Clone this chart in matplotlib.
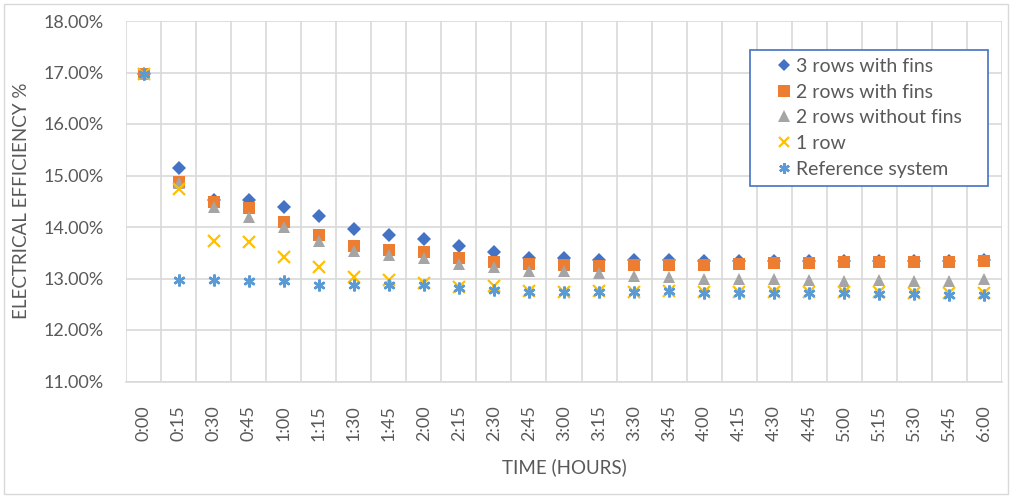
import numpy as np
import matplotlib
matplotlib.use('Agg')
from matplotlib import pyplot as plt
from matplotlib.ticker import PercentFormatter, FixedLocator
from matplotlib.patches import Rectangle

plt.rcParams['font.family'] = ['Lato', 'DejaVu Sans']

times = ['0:00', '0:15', '0:30', '0:45', '1:00', '1:15', '1:30', '1:45', '2:00',
         '2:15', '2:30', '2:45', '3:00', '3:15', '3:30', '3:45', '4:00', '4:15',
         '4:30', '4:45', '5:00', '5:15', '5:30', '5:45', '6:00']

rows3_fins = [16.97, 15.15, 14.53, 14.52, 14.38, 14.22, 13.97, 13.85, 13.76, 13.63,
              13.52, 13.40, 13.39, 13.36, 13.35, 13.35, 13.34, 13.34, 13.34, 13.34,
              13.34, 13.34, 13.34, 13.34, 13.35]
rows2_fins = [16.97, 14.88, 14.48, 14.36, 14.09, 13.85, 13.63, 13.55, 13.52, 13.39,
              13.32, 13.28, 13.27, 13.25, 13.26, 13.27, 13.27, 13.29, 13.30, 13.31,
              13.32, 13.32, 13.33, 13.33, 13.34]
rows2_nofins = [16.97, 14.85, 14.39, 14.20, 14.00, 13.73, 13.54, 13.45, 13.39, 13.29,
                13.23, 13.15, 13.15, 13.11, 13.04, 13.03, 13.00, 13.00, 12.99, 12.98,
                12.96, 12.98, 12.96, 12.96, 13.00]
row1 = [16.97, 14.73, 13.73, 13.71, 13.42, 13.23, 13.03, 12.97, 12.92, 12.83,
        12.86, 12.75, 12.74, 12.75, 12.74, 12.76, 12.74, 12.74, 12.74, 12.74,
        12.73, 12.73, 12.72, 12.72, 12.72]
reference = [16.97, 12.98, 12.97, 12.95, 12.95, 12.88, 12.87, 12.88, 12.88, 12.81,
             12.77, 12.73, 12.73, 12.74, 12.73, 12.75, 12.72, 12.72, 12.72, 12.72,
             12.71, 12.70, 12.69, 12.68, 12.68]

W, H = 1014, 497
fig = plt.figure(figsize=(W / 100, H / 100), dpi=100)
ax = fig.add_axes([126 / W, 1 - 381.5 / H, 876 / W, 360.5 / H])

x = np.arange(len(times))
grey = '#D9D9D9'
txt = '#595959'

ax.plot(x, rows3_fins, ls='none', marker='D', ms=7, mew=0, color='#4472C4', label='3 rows with fins', zorder=3)
ax.plot(x, rows2_fins, ls='none', marker='s', ms=9, mew=0, color='#ED7D31', label='2 rows with fins', zorder=4)
ax.plot(x, rows2_nofins, ls='none', marker='^', ms=9, mew=0, color='#A5A5A5', label='2 rows without fins', zorder=5)
ax.plot(x, row1, ls='none', marker='x', ms=8, mew=1.6, color='#FFC000', label='1 row', zorder=6)
ax.plot(x, reference, ls='none', marker=(6, 2, 0), ms=8.5, mew=1.8, color='#5B9BD5', label='Reference system', zorder=7)

ax.set_xlim(-0.5, len(times) - 0.5)
ax.set_ylim(11, 18)
ax.set_yticks(np.arange(11, 18.5, 1))
ax.yaxis.set_major_formatter(PercentFormatter(xmax=100, decimals=2))
ax.set_xticks(x)
ax.set_xticklabels(times, rotation=90, va='center', ha='center')
ax.xaxis.set_minor_locator(FixedLocator(np.arange(-0.5, len(times), 1)))

ax.grid(True, axis='y', which='major', color=grey, lw=1.2)
ax.grid(True, axis='x', which='minor', color=grey, lw=1.2)
ax.set_axisbelow(True)
for s in ax.spines.values():
    s.set_visible(False)
ax.spines['bottom'].set_visible(True)
ax.spines['bottom'].set_color(grey)
ax.spines['bottom'].set_linewidth(1.2)

ax.tick_params(which='both', length=0)
ax.tick_params(axis='y', labelsize=13, labelcolor=txt, pad=16)
ax.tick_params(axis='x', labelsize=13, labelcolor=txt, pad=30)

fig.text(22 / W, 1 - 201 / H, 'ELECTRICAL EFFICIENCY %', rotation=90, ha='center', va='center',
         fontsize=13.5, color=txt)
fig.text(564 / W, 1 - 467 / H, 'TIME (HOURS)', ha='center', va='center', fontsize=13.5, color=txt)

# legend box pinned to its pixel spot; 'expand' keeps entries left-aligned
leg = ax.legend(loc='upper left', bbox_to_anchor=(750 / W, 1 - 50 / H - 0.01, 238 / W, 0.01),
                bbox_transform=fig.transFigure, mode='expand',
                borderaxespad=0, fancybox=False, edgecolor='#4472C4', framealpha=1,
                fontsize=14, labelspacing=0.45, handlelength=2.7, handletextpad=-0.75,
                borderpad=0.4, markerscale=0.9)
leg.get_frame().set_linewidth(1.2)
for t in leg.get_texts():
    t.set_color(txt)

fig.patches.append(Rectangle((4 / W, 3 / H), 1004 / W, 490 / H, transform=fig.transFigure,
                             fill=False, edgecolor=grey, lw=1))

fig.savefig('out.png', dpi=100)
